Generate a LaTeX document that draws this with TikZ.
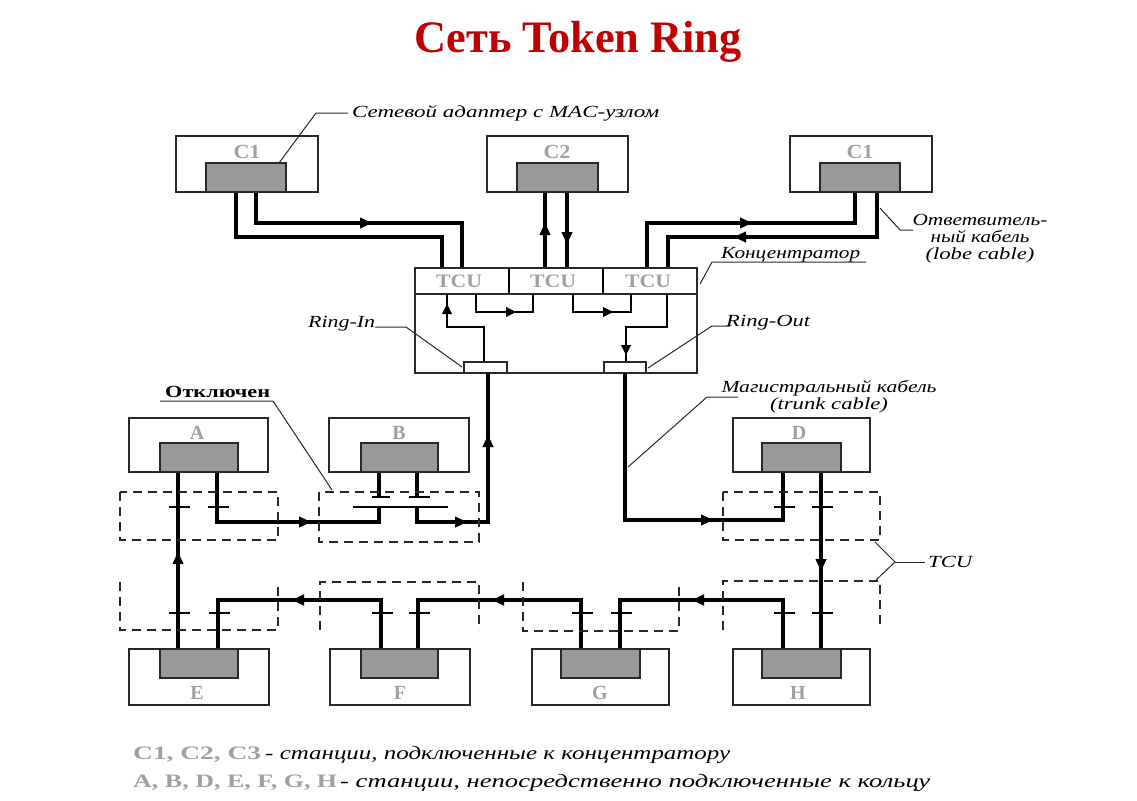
\documentclass[tikz,border=0pt]{standalone}
\usepackage{fontspec}
\setmainfont{Liberation Serif}
\usepackage{graphicx}
\usetikzlibrary{arrows.meta}
\newcommand{\fitw}[2]{\resizebox{#1}{\height}{#2}}
\newcommand{\contact}[2]{\draw[tickc] (#1-9,#2) -- (#1+12,#2);}
\definecolor{lbl}{RGB}{160,160,160}
\definecolor{adp}{RGB}{153,153,153}
\definecolor{ttl}{RGB}{192,0,0}
\definecolor{edge}{RGB}{40,40,40}
\tikzset{
  wire/.style={line width=3.3pt},
  thinw/.style={line width=1.4pt},
  tickc/.style={line width=2.8pt},
  lead/.style={line width=1pt, edge},
  stbox/.style={draw=edge, line width=1.6pt, fill=white},
  adapter/.style={draw=edge, line width=1.6pt, fill=adp},
  tcud/.style={line width=1.3pt, edge, dash pattern=on 9pt off 6pt},
  tipbig/.style={line width=0.8pt, -{Triangle[length=12pt,width=11pt]}},
  tipsmall/.style={line width=0.8pt, -{Triangle[length=10pt,width=10pt]}},
  glab/.style={inner sep=0pt, text=lbl, font=\fontsize{20}{20}\selectfont\bfseries},
  ann/.style={inner sep=0pt, font=\fontsize{17}{17}\selectfont\itshape},
  legi/.style={inner sep=0pt, font=\fontsize{19}{19}\selectfont\itshape},
  legg/.style={inner sep=0pt, text=lbl, font=\fontsize{19}{19}\selectfont\bfseries},
}
\begin{document}
\begin{tikzpicture}[x=1pt,y=-1pt]
\useasboundingbox (0,0) rectangle (1137,800);
\fill[white] (0,0) rectangle (1137,800);

% ---------- title
\node[inner sep=0pt, anchor=base, text=ttl, font=\fontsize{45}{45}\selectfont\bfseries] (title) at (578,53) {\fitw{327pt}{Сеть Token Ring}};

% ---------- wires from top stations to concentrator
\draw[wire] (236,192) |- (442,237) -- (442,268);
\draw[wire] (256,192) |- (462,223) -- (462,268);
\draw[wire] (545,192) -- (545,268);
\draw[wire] (567,192) -- (567,268);
\draw[wire] (855,192) |- (647,223) -- (647,268);
\draw[wire] (877,192) |- (668,237) -- (668,268);
\draw[tipbig] (352,223) -- (372,223);
\draw[tipbig] (545,242) -- (545,223);
\draw[tipbig] (567,224) -- (567,244);
\draw[tipbig] (733,223) -- (752,223);
\draw[tipbig] (754,237) -- (734,237);

% ---------- top stations
\draw[stbox] (176,136) rectangle (318,192);
\draw[adapter] (206,163) rectangle (286,192);
\node[glab] (c1a) at (247,152) {\fitw{27pt}{C1}};
\draw[stbox] (487,136) rectangle (628,192);
\draw[adapter] (517,163) rectangle (598,192);
\node[glab] (c2) at (557,152) {\fitw{27pt}{C2}};
\draw[stbox] (790,136) rectangle (932,192);
\draw[adapter] (820,163) rectangle (900,192);
\node[glab] (c1b) at (860,152) {\fitw{27pt}{C1}};

% ---------- concentrator
\draw[line width=1.6pt, edge] (415,268) rectangle (697,373);
\draw[line width=1.6pt, edge] (415,294) -- (697,294);
\draw[line width=2.8pt] (509,268) -- (509,294);
\draw[line width=2.8pt] (603,268) -- (603,294);
\node[glab, font=\fontsize{19}{19}\selectfont\bfseries] (t1) at (459,281) {\fitw{46pt}{TCU}};
\node[glab, font=\fontsize{19}{19}\selectfont\bfseries] (t2) at (553,281) {\fitw{46pt}{TCU}};
\node[glab, font=\fontsize{19}{19}\selectfont\bfseries] (t3) at (648,281) {\fitw{46pt}{TCU}};
\draw[thinw] (484,362) |- (447,327) -- (447,294);
\draw[thinw] (476,294) |- (533,312) -- (533,294);
\draw[thinw] (573,294) |- (631,312) -- (631,294);
\draw[thinw] (667,294) |- (626,327) -- (626,362);
\draw[tipsmall] (447,318) -- (447,304);
\draw[tipsmall] (498,312) -- (516,312);
\draw[tipsmall] (594,312) -- (613,312);
\draw[tipsmall] (626,338) -- (626,355);
\draw[line width=1.4pt, edge, fill=white] (464,362) rectangle (507,373);
\draw[line width=1.4pt, edge, fill=white] (604,362) rectangle (646,373);

% ---------- ring wires
\draw[wire] (625,373) |- (783,520) -- (783,472);
\draw[wire] (821,472) -- (821,649);
\draw[wire] (783,649) |- (620,600) -- (620,649);
\draw[wire] (581,649) |- (418,600) -- (418,649);
\draw[wire] (381,649) |- (218,600) -- (218,649);
\draw[wire] (178,649) -- (178,472);
\draw[wire] (217,472) |- (379,522) -- (379,507);
\draw[tickc] (353,507) -- (448,507);
\draw[wire] (417,507) |- (488,522) -- (488,373);
\draw[wire] (379,472) -- (379,497);
\draw[wire] (417,472) -- (417,497);
\draw[tickc] (372,497) -- (390,497);
\draw[tickc] (409,497) -- (430,497);

% contacts
\contact{178}{507} \contact{217}{507}
\contact{783}{507} \contact{821}{507}
\contact{178}{613} \contact{218}{613}
\contact{381}{613} \contact{418}{613}
\contact{581}{613} \contact{620}{613}
\contact{783}{613} \contact{821}{613}

% ring arrows
\draw[tipbig] (488,452) -- (488,435);
\draw[tipbig] (290,522) -- (311,522);
\draw[tipbig] (448,522) -- (467,522);
\draw[tipbig] (693,520) -- (713,520);
\draw[tipbig] (821,553) -- (821,571);
\draw[tipbig] (712,600) -- (692,600);
\draw[tipbig] (512,600) -- (492,600);
\draw[tipbig] (312,600) -- (292,600);
\draw[tipbig] (178,572) -- (178,552);

% ---------- TCU dashed boxes
\draw[tcud] (120,492) rectangle (278,540);
\draw[tcud] (319,492) rectangle (479,542);
\draw[tcud] (723,492) rectangle (880,540);
\draw[tcud] (120,582) -- (120,630) -- (278,630) -- (278,582);
\draw[tcud] (320,630) -- (320,582) -- (479,582) -- (479,630);
\draw[tcud] (523,582) -- (523,631) -- (679,631) -- (679,582);
\draw[tcud] (723,630) -- (723,581) -- (880,581) -- (880,628);

% ---------- middle stations
\draw[stbox] (129,418) rectangle (268,472);
\draw[adapter] (160,443) rectangle (238,472);
\node[glab] (la) at (197,433) {A};
\draw[stbox] (329,418) rectangle (469,472);
\draw[adapter] (361,443) rectangle (438,472);
\node[glab] (lb) at (399,433) {B};
\draw[stbox] (733,418) rectangle (870,472);
\draw[adapter] (762,443) rectangle (841,472);
\node[glab] (ld) at (799,433) {D};

% ---------- bottom stations
\draw[stbox] (129,649) rectangle (269,705);
\draw[adapter] (160,649) rectangle (238,678);
\node[glab] (le) at (197,693) {E};
\draw[stbox] (330,649) rectangle (470,705);
\draw[adapter] (361,649) rectangle (438,678);
\node[glab] (lf) at (400,693) {F};
\draw[stbox] (532,649) rectangle (669,705);
\draw[adapter] (561,649) rectangle (640,678);
\node[glab] (lg) at (600,693) {G};
\draw[stbox] (733,649) rectangle (870,705);
\draw[adapter] (762,649) rectangle (841,678);
\node[glab] (lh) at (798,693) {H};

% ---------- annotations and leaders
\node[ann, anchor=west] (adl) at (352,113) {\fitw{307pt}{Сетевой адаптер с MAC-узлом}};
\draw[lead] (348,113) -- (316,113) -- (279,163);
\node[ann, anchor=west] (konc) at (721,255) {\fitw{139pt}{Концентратор}};
\draw[lead] (866,262) -- (712,262) -- (700,284);
\node[ann, align=center] (lobe) at (980,239) {\fitw{135pt}{Ответвитель-}\\[0pt]\fitw{99pt}{ный кабель}\\[0pt]\fitw{109pt}{(lobe cable)}};
\draw[lead] (880,208) -- (900,230) -- (913,230);
\node[ann, anchor=west] (rin) at (308,324) {\fitw{67pt}{Ring-In}};
\draw[lead] (375,327) -- (406,327) -- (462,367);
\node[ann, anchor=west] (rout) at (726,323) {\fitw{84pt}{Ring-Out}};
\draw[lead] (730,326) -- (712,326) -- (648,368);
\node[ann, align=center] (trunk) at (829,397) {\fitw{215pt}{Магистральный кабель}\\[0pt]\fitw{118pt}{(trunk cable)}};
\draw[lead] (738,397) -- (707,397) -- (628,467);
\node[inner sep=0pt, anchor=west, font=\fontsize{17}{17}\selectfont\bfseries] (off) at (165,392) {\fitw{105pt}{Отключен}};
\draw[lead] (160,401) -- (273,401) -- (332,490);
\node[ann, anchor=west] (tcul) at (928,562) {\fitw{44pt}{TCU}};
\draw[lead] (875,542) -- (895,562) -- (876,580);
\draw[lead] (895,562) -- (925,562);

% ---------- legend
\node[legg, anchor=base west] (lg1) at (133,759) {\fitw{128pt}{C1, C2, C3}};
\node[legi, anchor=base west] (lt1) at (265,759) {\fitw{465pt}{- станции, подключенные к концентратору}};
\node[legg, anchor=base west] (lg2) at (133,787) {\fitw{204pt}{A, B, D, E, F, G, H}};
\node[legi, anchor=base west] (lt2) at (340,787) {\fitw{590pt}{- станции, непосредственно подключенные к кольцу}};
\end{tikzpicture}
\end{document}
